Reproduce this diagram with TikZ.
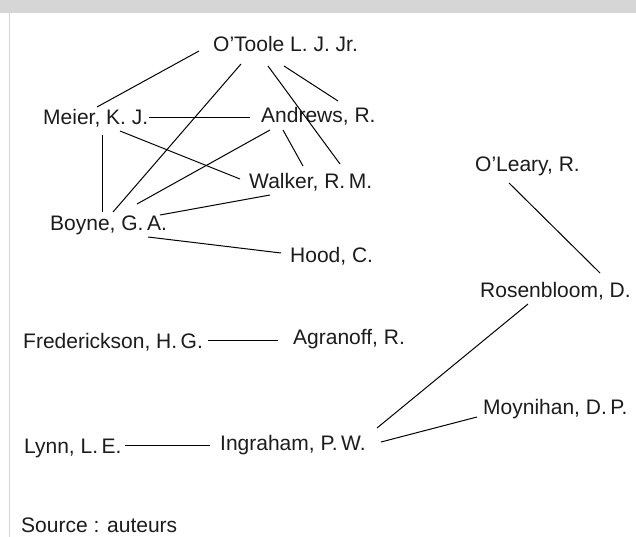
\documentclass[tikz,border=0pt]{standalone}
\usepackage{fontspec}
\setmainfont{Liberation Sans}
\definecolor{bandgray}{HTML}{D5D6D5}
\definecolor{txt}{HTML}{1C1C1C}
\begin{document}
\begin{tikzpicture}[x=1pt,y=-1pt,
  lbl/.style={inner sep=0pt,anchor=base west,text=txt,font=\fontsize{21}{25}\selectfont},
  link/.style={draw=black,line width=1pt}]
\useasboundingbox (0,0) rectangle (636,537);
\fill[white] (0,0) rectangle (636,537);
\fill[bandgray] (0,0) rectangle (636,13);
\draw[bandgray,line width=1.2pt] (9.5,13) -- (9.5,537);

\node[lbl] (otoole) at (213,52) {O'Toole L. J. Jr.};
\node[lbl] (meier) at (43,125) {Meier, K. J.};
\node[lbl] (andrews) at (261,123) {Andrews, R.};
\node[lbl] (walker) at (249,189) {Walker, R.\,M.};
\node[lbl] (boyne) at (50,230) {Boyne, G.\,A.};
\node[lbl] (hood) at (290,262) {Hood, C.};
\node[lbl] (oleary) at (475,172) {O'Leary, R.};
\node[lbl] (rosen) at (480,297) {Rosenbloom, D.};
\node[lbl] (fred) at (23,348) {Frederickson, H.\,G.};
\node[lbl] (agranoff) at (293,344) {Agranoff, R.};
\node[lbl] (lynn) at (24,453) {Lynn, L.\,E.};
\node[lbl] (ingraham) at (220,450) {Ingraham, P.\,W.};
\node[lbl] (moyn) at (483,414) {Moynihan, D.\,P.};
\node[lbl] (source) at (21,532) {Source : auteurs};

\path[link] ([shift={(-14,-1)}]otoole.base west) -- ([shift={(54,-18)}]meier.base west);
\path[link] ([shift={(28,12)}]otoole.base west) -- ([shift={(63,-18)}]boyne.base west);
\path[link] ([shift={(55,14)}]otoole.base west) -- ([shift={(91,-25)}]walker.base west);
\path[link] ([shift={(71,14)}]otoole.base west) -- ([shift={(77,-22)}]andrews.base west);
\path[link] ([shift={(106,-7.5)}]meier.base west) -- ([shift={(-11,-5.5)}]andrews.base west);
\path[link] ([shift={(59.5,10)}]meier.base west) -- ([shift={(52.5,-18)}]boyne.base west);
\path[link] ([shift={(77,6)}]meier.base west) -- ([shift={(-9,-10)}]walker.base west);
\path[link] ([shift={(9,7)}]andrews.base west) -- ([shift={(87,-26)}]boyne.base west);
\path[link] ([shift={(22,7)}]andrews.base west) -- ([shift={(54,-23)}]walker.base west);
\path[link] ([shift={(21,6)}]walker.base west) -- ([shift={(110,-15)}]boyne.base west);
\path[link] ([shift={(98,7)}]boyne.base west) -- ([shift={(-9,-9)}]hood.base west);
\path[link] ([shift={(34,11)}]oleary.base west) -- ([shift={(120,-24)}]rosen.base west);
\path[link] ([shift={(48,7)}]rosen.base west) -- ([shift={(157,-22)}]ingraham.base west);
\path[link] ([shift={(185,-7.5)}]fred.base west) -- ([shift={(-15,-3.5)}]agranoff.base west);
\path[link] ([shift={(101,-7.5)}]lynn.base west) -- ([shift={(-10,-4.5)}]ingraham.base west);
\path[link] ([shift={(161,-8)}]ingraham.base west) -- ([shift={(-6,3)}]moyn.base west);
\end{tikzpicture}
\end{document}
